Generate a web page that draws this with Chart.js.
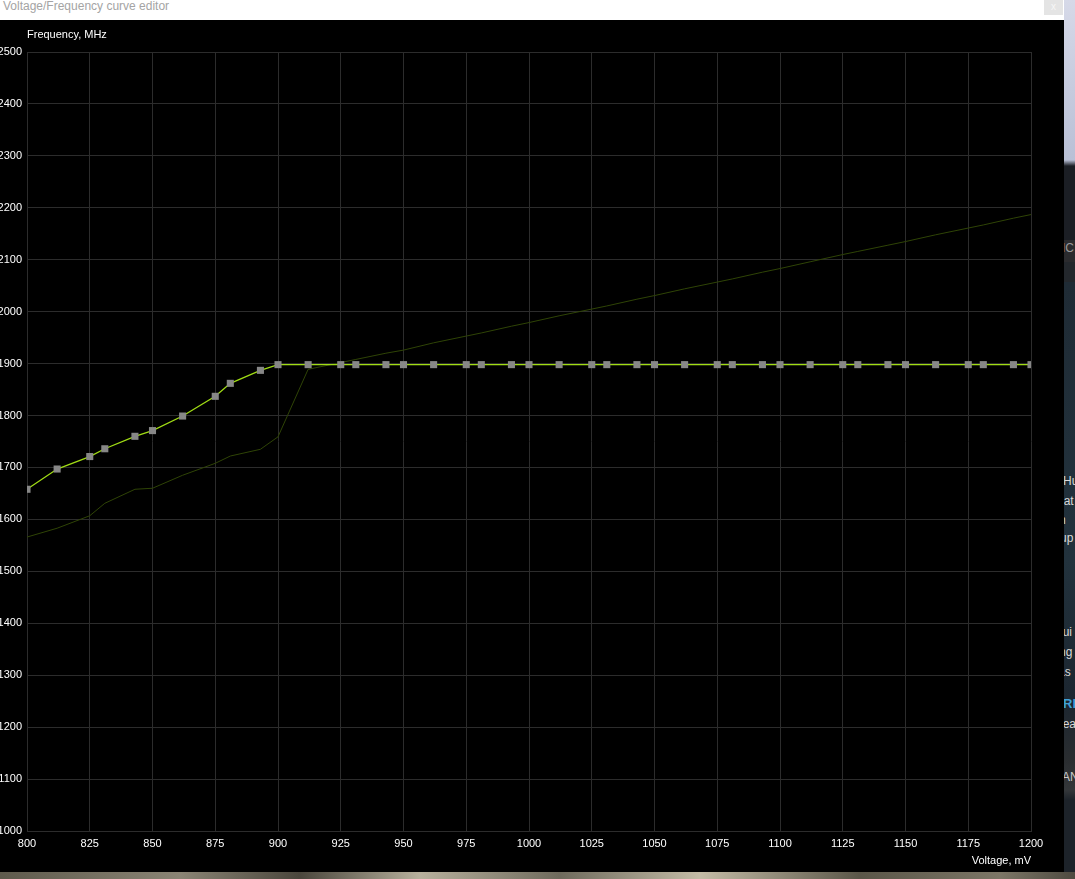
<!DOCTYPE html>
<html>
<head>
<meta charset="utf-8">
<title>Voltage/Frequency curve editor</title>
<script src="https://cdn.jsdelivr.net/npm/chart.js@4/dist/chart.umd.min.js"></script>
<style>
    html, body { margin: 0; padding: 0; background: #000; overflow: hidden; }
    body { width: 1075px; height: 879px; position: relative; font-family: "Liberation Sans", Arial, sans-serif; }
    #titlebar { position: absolute; left: 0; top: 0; width: 1064px; height: 20px; background: #fff; overflow: hidden; }
    #titlebar span { position: absolute; left: 3px; top: -1px; font-size: 12px; line-height: 14px; color: #a4a4a4; white-space: nowrap; }
    #closebtn { position: absolute; left: 1044px; top: 0; width: 19px; height: 15px; background: #e4e4e4; color: #f6f6f6; font-size: 10px; line-height: 14px; text-align: center; }
    #panel { position: absolute; left: 0; top: 20px; width: 1064px; height: 852px; background: #000; }
    #side { position: absolute; left: 1064px; top: 0; width: 11px; height: 872px; overflow: hidden;
        background: linear-gradient(to bottom, #d6d9e8 0px, #b9c0d6 160px, #1b1e24 166px, #1b1e24 240px, #2b2b2e 240px, #2b2b2e 262px, #23272c 262px, #23272c 282px, #1f2b35 282px, #22323d 560px, #1c2630 700px, #2a2d30 760px, #34373a 790px, #1d232a 800px, #1d232a 872px); }
    #side div { position: absolute; white-space: nowrap; font-size: 12px; color: #d8d8d8; }
    #bottom { position: absolute; left: 0; top: 872px; width: 1075px; height: 7px;
        background: linear-gradient(to right, #5e5a4c 0px, #8a8474 180px, #4a463c 300px, #b7b09c 420px, #6e6a5c 560px, #c4bca6 700px, #5a5648 860px, #7c7666 1000px, #4e4a40 1075px); }
</style>
</head>
<body>
<div id="titlebar"><span>Voltage/Frequency curve editor</span><div id="closebtn">x</div></div>
<div id="panel"><canvas id="vfChart" width="1064" height="852"></canvas></div>
<div id="side">
    <div style="left:-2px; top:241px; color:#9a9a9a;">IC</div>
    <div style="left:-1px; top:474px;">Hu</div>
    <div style="left:-7px; top:494px;">nat</div>
    <div style="left:-5px; top:513px;">n</div>
    <div style="left:-4px; top:531px;">up</div>
    <div style="left:-8px; top:625px;">gui</div>
    <div style="left:-5px; top:645px;">ng</div>
    <div style="left:-6px; top:665px;">as</div>
    <div style="left:-1px; top:696px; color:#3fa0d8; font-weight:bold; font-size:13px;">RI</div>
    <div style="left:-8px; top:717px;">pea</div>
    <div style="left:-2px; top:770px; color:#c8c8c8;">AN</div>
</div>
<div id="bottom"></div>

<script>
// voltage points of the curve, mV
const voltages = [800, 812, 825, 831, 843, 850, 862, 875, 881, 893,
    900, 912, 925, 931, 943, 950, 962, 975, 981, 993,
    1000, 1012, 1025, 1031, 1043, 1050, 1062, 1075, 1081, 1093,
    1100, 1112, 1125, 1131, 1143, 1150, 1162, 1175, 1181, 1193, 1200];

// edited curve (bright, with square handles), MHz
const editedFreq = [1658, 1697, 1721, 1736, 1760, 1771, 1799, 1837, 1862, 1887,
    1898, 1898, 1898, 1898, 1898, 1898, 1898, 1898, 1898, 1898,
    1898, 1898, 1898, 1898, 1898, 1898, 1898, 1898, 1898, 1898,
    1898, 1898, 1898, 1898, 1898, 1898, 1898, 1898, 1898, 1898, 1898];

// default curve (dim olive line), MHz
const defaultFreq = [1566, 1583, 1607, 1631, 1658, 1660, 1685, 1708, 1722, 1735,
    1759, 1889, 1902, 1908, 1920, 1926, 1940, 1953, 1959, 1972,
    1979, 1992, 2005, 2011, 2024, 2031, 2044, 2057, 2063, 2076,
    2083, 2096, 2110, 2116, 2128, 2135, 2148, 2161, 2167, 2180, 2187];

const voltageMin = 800;
const voltageMax = 1200;
const voltageStep = 25;
const freqMin = 1000;
const freqMax = 2500;
const freqStep = 100;

const gridColor = '#2c2c2c';
const labelFont = { family: '"Liberation Sans", Arial, sans-serif', size: 11 };

const toPoints = (xs, ys) => xs.map((x, i) => ({ x: x, y: ys[i] }));
const plainNumber = value => String(value);

// y axis caption sits horizontally above the plot
const freqCaption = {
    id: 'freqCaption',
    afterDraw(chart) {
        const ctx = chart.ctx;
        ctx.save();
        ctx.font = '11px "Liberation Sans", Arial, sans-serif';
        ctx.fillStyle = '#ffffff';
        ctx.textAlign = 'left';
        ctx.textBaseline = 'middle';
        ctx.fillText('Frequency, MHz', chart.chartArea.left, chart.chartArea.top - 17);
        ctx.restore();
    }
};

const ctx = document.getElementById('vfChart').getContext('2d');

new Chart(ctx, {
    type: 'line',
    data: {
        datasets: [
            {
                label: 'Curve',
                data: toPoints(voltages, editedFreq),
                borderColor: '#a0dc14',
                borderWidth: 1.3,
                pointStyle: 'rect',
                pointRadius: 5,
                pointBorderWidth: 0,
                pointBackgroundColor: '#878787',
                tension: 0,
                order: 0
            },
            {
                label: 'Default',
                data: toPoints(voltages, defaultFreq),
                borderColor: '#2f4406',
                borderWidth: 1,
                pointRadius: 0,
                tension: 0,
                order: 1
            }
        ]
    },
    options: {
        responsive: false,
        animation: false,
        devicePixelRatio: 1,
        layout: { padding: { top: 32, right: 33, left: 0, bottom: 0 } },
        plugins: {
            legend: { display: false },
            tooltip: { enabled: false }
        },
        scales: {
            x: {
                type: 'linear',
                min: voltageMin,
                max: voltageMax,
                afterFit(scale) { scale.height = 41; },
                ticks: {
                    stepSize: voltageStep,
                    color: '#ffffff',
                    font: labelFont,
                    padding: 6,
                    maxRotation: 0,
                    autoSkip: false,
                    callback: plainNumber
                },
                grid: { color: gridColor, drawTicks: false },
                border: { color: gridColor },
                title: {
                    display: true,
                    text: 'Voltage, mV',
                    align: 'end',
                    color: '#ffffff',
                    font: labelFont,
                    padding: { top: 0, bottom: 4 }
                }
            },
            y: {
                min: freqMin,
                max: freqMax,
                afterFit(scale) { scale.width = 27; },
                ticks: {
                    stepSize: freqStep,
                    color: '#ffffff',
                    font: labelFont,
                    padding: 5,
                    callback: plainNumber
                },
                grid: { color: gridColor, drawTicks: false },
                border: { color: gridColor }
            }
        }
    },
    plugins: [freqCaption]
});
</script>
</body>
</html>
